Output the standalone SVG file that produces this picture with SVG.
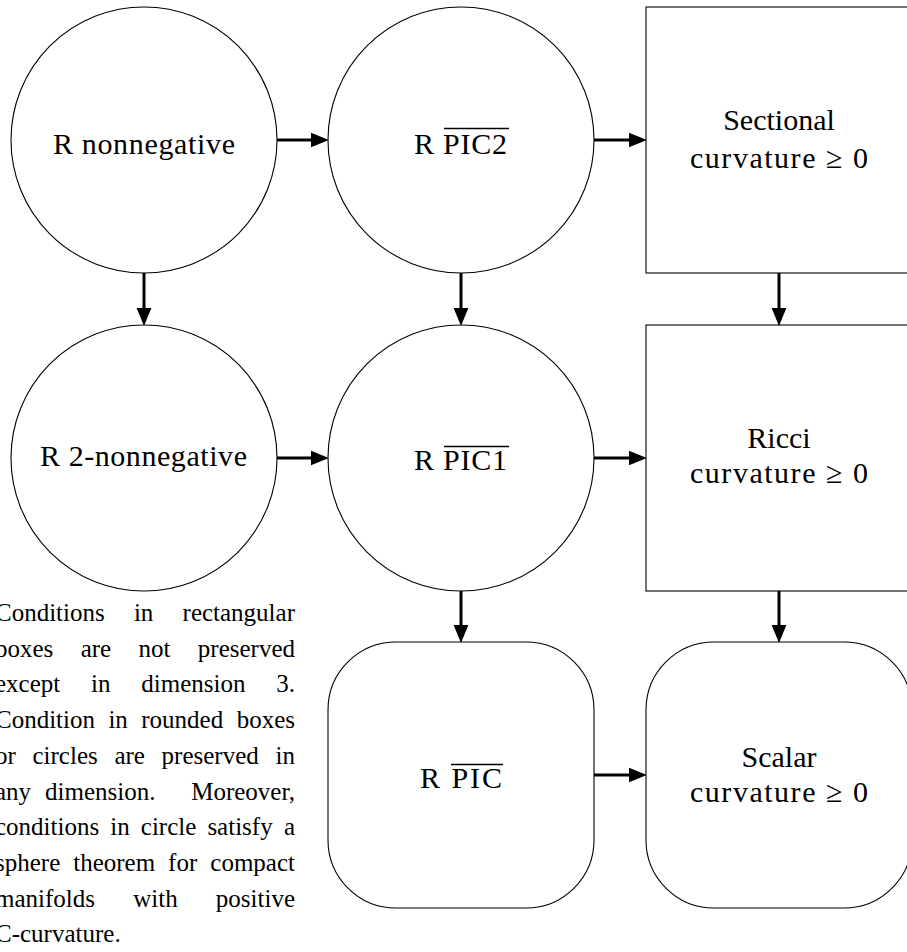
<svg xmlns="http://www.w3.org/2000/svg" width="907" height="952" viewBox="0 0 907 952">
<style>
.shape{fill:#fff;stroke:#000;stroke-width:1.1}
.lbl{font-family:"Liberation Serif","Times New Roman",serif;font-size:30px;fill:#000}
.par{font-family:"Liberation Serif","Times New Roman",serif;font-size:25px;fill:#000}
.ol{stroke:#000;stroke-width:1.6}
.edge{stroke:#000;stroke-width:3;fill:none;marker-end:url(#ah)}
</style>
<defs>
<marker id="ah" markerUnits="userSpaceOnUse" markerWidth="18" markerHeight="16" viewBox="0 0 17 14" refX="2" refY="7" orient="auto">
<path d="M0,0 L17,7 L0,14 z" fill="#000"/>
</marker>
</defs>
<rect width="907" height="952" fill="#fff"/>
<g id="n-nonneg">
<circle class="shape" cx="144" cy="140" r="133"/>
<text class="lbl" font-family="Liberation Serif, serif" x="144" y="154" text-anchor="middle" textLength="182" lengthAdjust="spacing">R nonnegative</text>
</g>
<g id="n-pic2">
<circle class="shape" cx="461" cy="140" r="133"/>
<text class="lbl" font-family="Liberation Serif, serif" x="414" y="154" textLength="93" lengthAdjust="spacing">R PIC2</text>
<line class="ol" x1="444" y1="128.5" x2="509" y2="128.5"/>
</g>
<g id="n-sectional">
<rect class="shape" x="646" y="7" width="266" height="266"/>
<text class="lbl" font-family="Liberation Serif, serif" x="779" y="130" text-anchor="middle">Sectional</text>
<text class="lbl" font-family="Liberation Serif, serif" x="779" y="168" text-anchor="middle" textLength="178" lengthAdjust="spacing">curvature ≥ 0</text>
</g>
<g id="n-2nonneg">
<circle class="shape" cx="144" cy="458" r="133"/>
<text class="lbl" font-family="Liberation Serif, serif" x="143.5" y="466" text-anchor="middle" textLength="207" lengthAdjust="spacing">R 2-nonnegative</text>
</g>
<g id="n-pic1">
<circle class="shape" cx="461" cy="458" r="133"/>
<text class="lbl" font-family="Liberation Serif, serif" x="414" y="470" textLength="93" lengthAdjust="spacing">R PIC1</text>
<line class="ol" x1="444" y1="446.5" x2="509" y2="446.5"/>
</g>
<g id="n-ricci">
<rect class="shape" x="646" y="325" width="266" height="266"/>
<text class="lbl" font-family="Liberation Serif, serif" x="779" y="448" text-anchor="middle">Ricci</text>
<text class="lbl" font-family="Liberation Serif, serif" x="779" y="483" text-anchor="middle" textLength="178" lengthAdjust="spacing">curvature ≥ 0</text>
</g>
<g id="n-pic">
<rect class="shape" x="328" y="642" width="266" height="266" rx="68" ry="68"/>
<text class="lbl" font-family="Liberation Serif, serif" x="420" y="788" textLength="82" lengthAdjust="spacing">R PIC</text>
<line class="ol" x1="451" y1="764.5" x2="503" y2="764.5"/>
</g>
<g id="n-scalar">
<rect class="shape" x="646" y="642" width="266" height="266" rx="68" ry="68"/>
<text class="lbl" font-family="Liberation Serif, serif" x="779" y="767" text-anchor="middle">Scalar</text>
<text class="lbl" font-family="Liberation Serif, serif" x="779" y="802" text-anchor="middle" textLength="178" lengthAdjust="spacing">curvature ≥ 0</text>
</g>
<g id="connectors">
<line class="edge" x1="277" y1="140" x2="313" y2="140"/>
<line class="edge" x1="594" y1="140" x2="631" y2="140"/>
<line class="edge" x1="277" y1="458" x2="313" y2="458"/>
<line class="edge" x1="594" y1="458" x2="631" y2="458"/>
<line class="edge" x1="594" y1="775" x2="631" y2="775"/>
<line class="edge" x1="144" y1="273" x2="144" y2="310"/>
<line class="edge" x1="461" y1="273" x2="461" y2="310"/>
<line class="edge" x1="779" y1="273" x2="779" y2="310"/>
<line class="edge" x1="461" y1="591" x2="461" y2="627"/>
<line class="edge" x1="779" y1="591" x2="779" y2="627"/>
</g>
<g id="note" class="par" font-family="Liberation Serif, serif">
<text x="-5" y="621">Conditions</text><text x="133.9" y="621">in</text><text x="295" y="621" text-anchor="end">rectangular</text>
<text x="-5" y="656.7">boxes</text><text x="80.7" y="656.7">are</text><text x="138.5" y="656.7">not</text><text x="295" y="656.7" text-anchor="end">preserved</text>
<text x="-5" y="692.4">except</text><text x="91" y="692.4">in</text><text x="141.3" y="692.4">dimension</text><text x="295" y="692.4" text-anchor="end">3.</text>
<text x="-5" y="728">Condition</text><text x="108.4" y="728">in</text><text x="141.3" y="728">rounded</text><text x="295" y="728" text-anchor="end">boxes</text>
<text x="-5" y="763.8">or</text><text x="32.5" y="763.8">circles</text><text x="114.4" y="763.8">are</text><text x="161.6" y="763.8">preserved</text><text x="295" y="763.8" text-anchor="end">in</text>
<text x="-5" y="799.5">any</text><text x="45" y="799.5">dimension.</text><text x="295" y="799.5" text-anchor="end">Moreover,</text>
<text x="-5" y="835.2">conditions</text><text x="110.3" y="835.2">in</text><text x="140.8" y="835.2">circle</text><text x="207.4" y="835.2">satisfy</text><text x="295" y="835.2" text-anchor="end">a</text>
<text x="-5" y="870.9">sphere</text><text x="73.2" y="870.9">theorem</text><text x="168.1" y="870.9">for</text><text x="295" y="870.9" text-anchor="end">compact</text>
<text x="-5" y="906.6">manifolds</text><text x="133.2" y="906.6">with</text><text x="295" y="906.6" text-anchor="end">positive</text>
<text x="-5" y="942.3">C-curvature.</text>
</g>
</svg>
